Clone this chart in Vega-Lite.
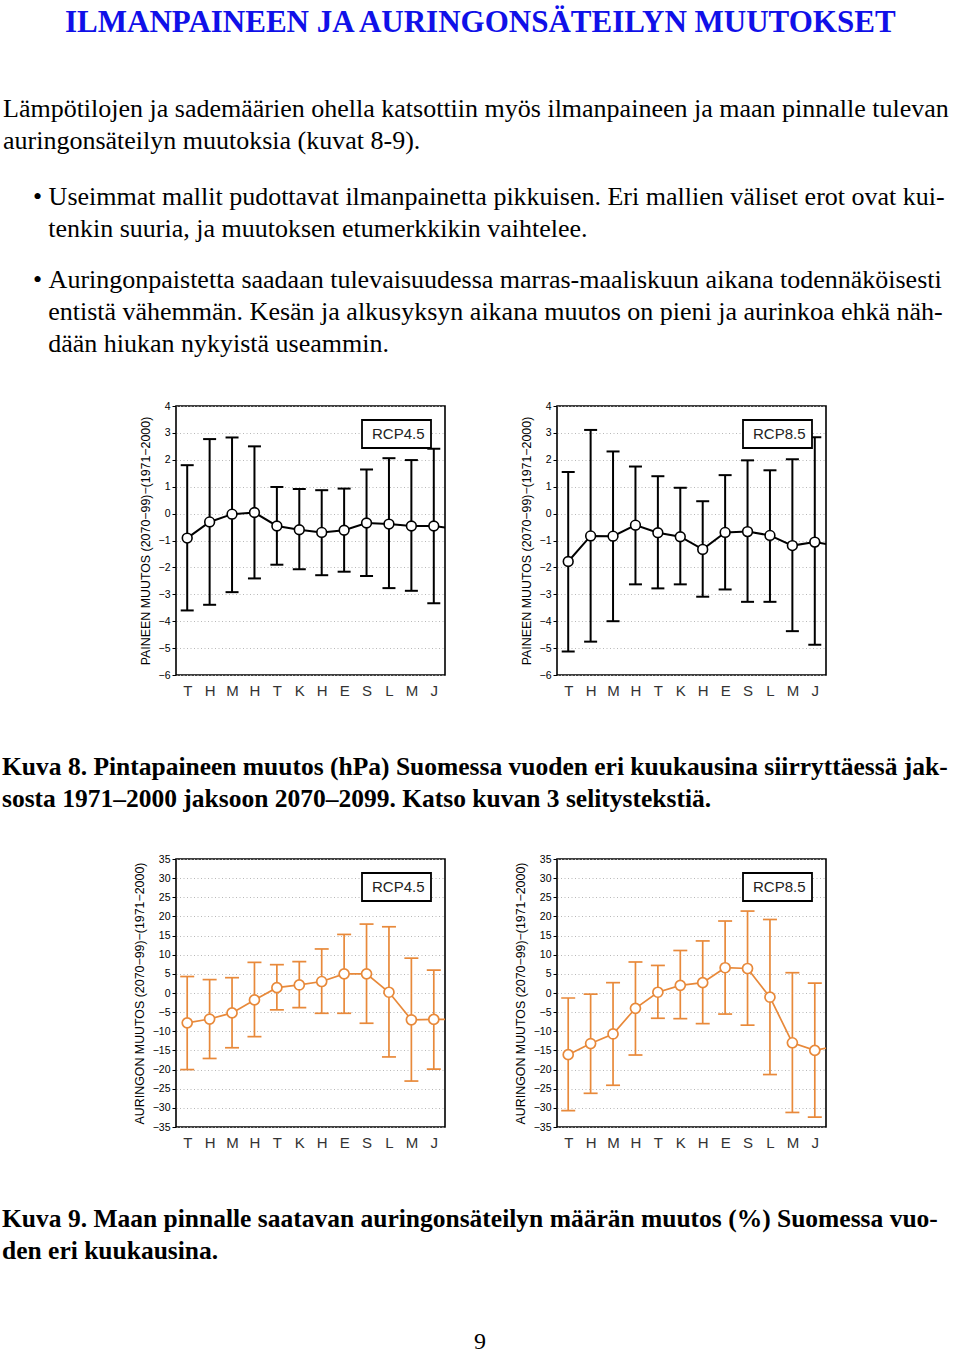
{
  "$schema": "https://vega.github.io/schema/vega-lite/v6.json",
  "padding": 0,
  "background": "white",
  "bounds": "flush",
  "columns": 3,
  "spacing": {"row": 0, "column": 112},
  "align": {"row": "each", "column": "none"},
  "resolve": {"scale": {"color": "independent"}, "legend": {"color": "independent"}},
  "datasets": {
    "p45": [
      {"m": 1, "kk": "T", "mean": -0.91, "lo": -3.60, "hi": 1.80, "skenaario": "RCP4.5"},
      {"m": 2, "kk": "H", "mean": -0.31, "lo": -3.39, "hi": 2.77, "skenaario": "RCP4.5"},
      {"m": 3, "kk": "M", "mean": -0.02, "lo": -2.92, "hi": 2.83, "skenaario": "RCP4.5"},
      {"m": 4, "kk": "H", "mean": 0.04, "lo": -2.41, "hi": 2.50, "skenaario": "RCP4.5"},
      {"m": 5, "kk": "T", "mean": -0.46, "lo": -1.90, "hi": 0.99, "skenaario": "RCP4.5"},
      {"m": 6, "kk": "K", "mean": -0.60, "lo": -2.07, "hi": 0.91, "skenaario": "RCP4.5"},
      {"m": 7, "kk": "H", "mean": -0.70, "lo": -2.29, "hi": 0.87, "skenaario": "RCP4.5"},
      {"m": 8, "kk": "E", "mean": -0.62, "lo": -2.16, "hi": 0.93, "skenaario": "RCP4.5"},
      {"m": 9, "kk": "S", "mean": -0.35, "lo": -2.32, "hi": 1.64, "skenaario": "RCP4.5"},
      {"m": 10, "kk": "L", "mean": -0.39, "lo": -2.77, "hi": 2.06, "skenaario": "RCP4.5"},
      {"m": 11, "kk": "M", "mean": -0.46, "lo": -2.87, "hi": 1.99, "skenaario": "RCP4.5"},
      {"m": 12, "kk": "J", "mean": -0.46, "lo": -3.33, "hi": 2.41, "skenaario": "RCP4.5"},
      {"m": 13, "kk": "T", "mean": -0.58, "lo": null, "hi": null, "skenaario": "RCP4.5"}
    ],
    "p85": [
      {"m": 1, "kk": "T", "mean": -1.78, "lo": -5.13, "hi": 1.55, "skenaario": "RCP8.5"},
      {"m": 2, "kk": "H", "mean": -0.83, "lo": -4.76, "hi": 3.11, "skenaario": "RCP8.5"},
      {"m": 3, "kk": "M", "mean": -0.84, "lo": -4.00, "hi": 2.31, "skenaario": "RCP8.5"},
      {"m": 4, "kk": "H", "mean": -0.43, "lo": -2.63, "hi": 1.75, "skenaario": "RCP8.5"},
      {"m": 5, "kk": "T", "mean": -0.71, "lo": -2.78, "hi": 1.39, "skenaario": "RCP8.5"},
      {"m": 6, "kk": "K", "mean": -0.86, "lo": -2.63, "hi": 0.96, "skenaario": "RCP8.5"},
      {"m": 7, "kk": "H", "mean": -1.33, "lo": -3.09, "hi": 0.46, "skenaario": "RCP8.5"},
      {"m": 8, "kk": "E", "mean": -0.70, "lo": -2.82, "hi": 1.43, "skenaario": "RCP8.5"},
      {"m": 9, "kk": "S", "mean": -0.67, "lo": -3.28, "hi": 1.98, "skenaario": "RCP8.5"},
      {"m": 10, "kk": "L", "mean": -0.81, "lo": -3.28, "hi": 1.61, "skenaario": "RCP8.5"},
      {"m": 11, "kk": "M", "mean": -1.19, "lo": -4.37, "hi": 2.02, "skenaario": "RCP8.5"},
      {"m": 12, "kk": "J", "mean": -1.06, "lo": -4.88, "hi": 2.84, "skenaario": "RCP8.5"},
      {"m": 13, "kk": "T", "mean": -1.20, "lo": null, "hi": null, "skenaario": "RCP8.5"}
    ],
    "r45": [
      {"m": 1, "kk": "T", "mean": -7.8, "lo": -20.0, "hi": 4.3, "skenaario": "RCP4.5"},
      {"m": 2, "kk": "H", "mean": -6.8, "lo": -17.1, "hi": 3.5, "skenaario": "RCP4.5"},
      {"m": 3, "kk": "M", "mean": -5.2, "lo": -14.3, "hi": 4.0, "skenaario": "RCP4.5"},
      {"m": 4, "kk": "H", "mean": -1.8, "lo": -11.4, "hi": 8.0, "skenaario": "RCP4.5"},
      {"m": 5, "kk": "T", "mean": 1.4, "lo": -4.4, "hi": 7.4, "skenaario": "RCP4.5"},
      {"m": 6, "kk": "K", "mean": 2.1, "lo": -3.8, "hi": 8.2, "skenaario": "RCP4.5"},
      {"m": 7, "kk": "H", "mean": 3.0, "lo": -5.3, "hi": 11.5, "skenaario": "RCP4.5"},
      {"m": 8, "kk": "E", "mean": 5.0, "lo": -5.3, "hi": 15.3, "skenaario": "RCP4.5"},
      {"m": 9, "kk": "S", "mean": 5.0, "lo": -7.9, "hi": 18.0, "skenaario": "RCP4.5"},
      {"m": 10, "kk": "L", "mean": 0.2, "lo": -16.7, "hi": 17.3, "skenaario": "RCP4.5"},
      {"m": 11, "kk": "M", "mean": -7.0, "lo": -23.0, "hi": 9.1, "skenaario": "RCP4.5"},
      {"m": 12, "kk": "J", "mean": -6.9, "lo": -19.9, "hi": 6.0, "skenaario": "RCP4.5"},
      {"m": 13, "kk": "T", "mean": -6.9, "lo": null, "hi": null, "skenaario": "RCP4.5"}
    ],
    "r85": [
      {"m": 1, "kk": "T", "mean": -16.1, "lo": -30.7, "hi": -1.3, "skenaario": "RCP8.5"},
      {"m": 2, "kk": "H", "mean": -13.2, "lo": -26.2, "hi": -0.3, "skenaario": "RCP8.5"},
      {"m": 3, "kk": "M", "mean": -10.7, "lo": -24.1, "hi": 2.7, "skenaario": "RCP8.5"},
      {"m": 4, "kk": "H", "mean": -4.0, "lo": -16.2, "hi": 8.1, "skenaario": "RCP8.5"},
      {"m": 5, "kk": "T", "mean": 0.2, "lo": -6.6, "hi": 7.2, "skenaario": "RCP8.5"},
      {"m": 6, "kk": "K", "mean": 2.0, "lo": -6.7, "hi": 11.1, "skenaario": "RCP8.5"},
      {"m": 7, "kk": "H", "mean": 2.7, "lo": -8.0, "hi": 13.6, "skenaario": "RCP8.5"},
      {"m": 8, "kk": "E", "mean": 6.6, "lo": -5.5, "hi": 18.8, "skenaario": "RCP8.5"},
      {"m": 9, "kk": "S", "mean": 6.4, "lo": -8.4, "hi": 21.4, "skenaario": "RCP8.5"},
      {"m": 10, "kk": "L", "mean": -1.1, "lo": -21.3, "hi": 19.2, "skenaario": "RCP8.5"},
      {"m": 11, "kk": "M", "mean": -13.0, "lo": -31.2, "hi": 5.3, "skenaario": "RCP8.5"},
      {"m": 12, "kk": "J", "mean": -15.0, "lo": -32.4, "hi": 2.6, "skenaario": "RCP8.5"},
      {"m": 13, "kk": "T", "mean": -13.8, "lo": null, "hi": null, "skenaario": "RCP8.5"}
    ]
  },
  "concat": [
    {"width": 62, "height": 39, "data": {"values": []}, "mark": "text", "encoding": {}},
    {"width": 1, "height": 1, "data": {"values": []}, "mark": "text", "encoding": {}},
    {"width": 1, "height": 1, "data": {"values": []}, "mark": "text", "encoding": {}},

    {"width": 62, "height": 115, "data": {"values": []}, "mark": "text", "encoding": {},
     "title": {"text": "ILMANPAINEEN JA AURINGONSÄTEILYN MUUTOKSET", "anchor": "start", "frame": "group", "orient": "top", "offset": 0, "dx": 65, "limit": 1200, "font": "Liberation Serif", "fontSize": 31, "fontWeight": "bold", "color": "#1010e8"}},
    {"width": 1, "height": 1, "data": {"values": []}, "mark": "text", "encoding": {}},
    {"width": 1, "height": 1, "data": {"values": []}, "mark": "text", "encoding": {}},

    {"width": 62, "height": 88, "data": {"values": []}, "mark": "text", "encoding": {},
     "title": {"text": ["Lämpötilojen ja sademäärien ohella katsottiin myös ilmanpaineen ja maan pinnalle tulevan", "auringonsäteilyn muutoksia (kuvat 8-9)."], "anchor": "start", "frame": "group", "orient": "top", "offset": 0, "dx": 3, "limit": 1200, "font": "Liberation Serif", "fontSize": 26, "fontWeight": "normal", "color": "black", "lineHeight": 32}},
    {"width": 1, "height": 1, "data": {"values": []}, "mark": "text", "encoding": {}},
    {"width": 1, "height": 1, "data": {"values": []}, "mark": "text", "encoding": {}},

    {"width": 62, "height": 115, "data": {"values": []}, "mark": "text", "encoding": {},
     "title": {"text": ["•\u00a0Useimmat mallit pudottavat ilmanpainetta pikkuisen. Eri mallien väliset erot ovat kui-", "\u200b\u00a0\u00a0\u200atenkin suuria, ja muutoksen etumerkkikin vaihtelee."], "anchor": "start", "frame": "group", "orient": "top", "offset": 0, "dx": 33, "limit": 1200, "font": "Liberation Serif", "fontSize": 26, "fontWeight": "normal", "color": "black", "lineHeight": 32}},
    {"width": 1, "height": 1, "data": {"values": []}, "mark": "text", "encoding": {}},
    {"width": 1, "height": 1, "data": {"values": []}, "mark": "text", "encoding": {}},

    {"width": 62, "height": 49, "data": {"values": []}, "mark": "text", "encoding": {},
     "title": {"text": ["•\u00a0Auringonpaistetta saadaan tulevaisuudessa marras-maaliskuun aikana todennäköisesti", "\u200b\u00a0\u00a0\u200aentistä vähemmän. Kesän ja alkusyksyn aikana muutos on pieni ja aurinkoa ehkä näh-", "\u200b\u00a0\u00a0\u200adään hiukan nykyistä useammin."], "anchor": "start", "frame": "group", "orient": "top", "offset": 0, "dx": 33, "limit": 1200, "font": "Liberation Serif", "fontSize": 26, "fontWeight": "normal", "color": "black", "lineHeight": 32}},
    {"width": 1, "height": 1, "data": {"values": []}, "mark": "text", "encoding": {}},
    {"width": 1, "height": 1, "data": {"values": []}, "mark": "text", "encoding": {}},

    {"width": 63.5, "height": 269, "data": {"values": []}, "mark": "text", "encoding": {}},
    {"width": 269, "height": 269, "data": {"name": "p45"}, "view": {"stroke": "black", "strokeWidth": 1.6},
     "encoding": {"x": {"field": "m", "type": "quantitative", "scale": {"domain": [0.5, 12.5], "nice": false, "zero": false}, "axis": {"title": null, "values": [1,2,3,4,5,6,7,8,9,10,11,12], "labelOverlap": false, "labelExpr": "['T','H','M','H','T','K','H','E','S','L','M','J'][datum.value-1]"}}},
     "layer": [
       {"transform": [{"filter": "datum.m <= 12"}], "mark": {"type": "rule", "color": "black", "strokeWidth": 2},
        "encoding": {"y": {"field": "lo", "type": "quantitative", "scale": {"domain": [-6, 4], "nice": false, "zero": false}, "axis": {"title": "PAINEEN MUUTOS (2070−99)−(1971−2000)", "labelOverlap": false, "values": [-6,-5,-4,-3,-2,-1,0,1,2,3,4]}}, "y2": {"field": "hi"}}},
       {"transform": [{"filter": "datum.m <= 12"}], "mark": {"type": "tick", "orient": "horizontal", "color": "black", "size": 13, "thickness": 2, "opacity": 1},
        "encoding": {"y": {"field": "lo", "type": "quantitative", "scale": {"domain": [-6, 4], "nice": false, "zero": false}, "axis": {"title": "PAINEEN MUUTOS (2070−99)−(1971−2000)", "labelOverlap": false, "values": [-6,-5,-4,-3,-2,-1,0,1,2,3,4]}}}},
       {"transform": [{"filter": "datum.m <= 12"}], "mark": {"type": "tick", "orient": "horizontal", "color": "black", "size": 13, "thickness": 2, "opacity": 1},
        "encoding": {"y": {"field": "hi", "type": "quantitative", "scale": {"domain": [-6, 4], "nice": false, "zero": false}, "axis": {"title": "PAINEEN MUUTOS (2070−99)−(1971−2000)", "labelOverlap": false, "values": [-6,-5,-4,-3,-2,-1,0,1,2,3,4]}}}},
       {"mark": {"type": "line", "strokeWidth": 2, "clip": true},
        "encoding": {"y": {"field": "mean", "type": "quantitative", "scale": {"domain": [-6, 4], "nice": false, "zero": false}, "axis": {"title": "PAINEEN MUUTOS (2070−99)−(1971−2000)", "labelOverlap": false, "values": [-6,-5,-4,-3,-2,-1,0,1,2,3,4]}},
                     "color": {"field": "skenaario", "type": "nominal", "scale": {"range": ["black"]}, "legend": {"title": null, "symbolSize": 0, "symbolStrokeWidth": 0, "symbolOpacity": 0, "labelOffset": -11, "padding": 6}}}},
       {"transform": [{"filter": "datum.m <= 12"}], "mark": {"type": "point", "shape": "circle", "filled": true, "fill": "white", "stroke": "black", "strokeWidth": 1.6, "size": 95, "opacity": 1},
        "encoding": {"y": {"field": "mean", "type": "quantitative", "scale": {"domain": [-6, 4], "nice": false, "zero": false}, "axis": {"title": "PAINEEN MUUTOS (2070−99)−(1971−2000)", "labelOverlap": false, "values": [-6,-5,-4,-3,-2,-1,0,1,2,3,4]}}}}
     ]},
    {"width": 269, "height": 269, "data": {"name": "p85"}, "view": {"stroke": "black", "strokeWidth": 1.6},
     "encoding": {"x": {"field": "m", "type": "quantitative", "scale": {"domain": [0.5, 12.5], "nice": false, "zero": false}, "axis": {"title": null, "values": [1,2,3,4,5,6,7,8,9,10,11,12], "labelOverlap": false, "labelExpr": "['T','H','M','H','T','K','H','E','S','L','M','J'][datum.value-1]"}}},
     "layer": [
       {"transform": [{"filter": "datum.m <= 12"}], "mark": {"type": "rule", "color": "black", "strokeWidth": 2},
        "encoding": {"y": {"field": "lo", "type": "quantitative", "scale": {"domain": [-6, 4], "nice": false, "zero": false}, "axis": {"title": "PAINEEN MUUTOS (2070−99)−(1971−2000)", "labelOverlap": false, "values": [-6,-5,-4,-3,-2,-1,0,1,2,3,4]}}, "y2": {"field": "hi"}}},
       {"transform": [{"filter": "datum.m <= 12"}], "mark": {"type": "tick", "orient": "horizontal", "color": "black", "size": 13, "thickness": 2, "opacity": 1},
        "encoding": {"y": {"field": "lo", "type": "quantitative", "scale": {"domain": [-6, 4], "nice": false, "zero": false}, "axis": {"title": "PAINEEN MUUTOS (2070−99)−(1971−2000)", "labelOverlap": false, "values": [-6,-5,-4,-3,-2,-1,0,1,2,3,4]}}}},
       {"transform": [{"filter": "datum.m <= 12"}], "mark": {"type": "tick", "orient": "horizontal", "color": "black", "size": 13, "thickness": 2, "opacity": 1},
        "encoding": {"y": {"field": "hi", "type": "quantitative", "scale": {"domain": [-6, 4], "nice": false, "zero": false}, "axis": {"title": "PAINEEN MUUTOS (2070−99)−(1971−2000)", "labelOverlap": false, "values": [-6,-5,-4,-3,-2,-1,0,1,2,3,4]}}}},
       {"mark": {"type": "line", "strokeWidth": 2, "clip": true},
        "encoding": {"y": {"field": "mean", "type": "quantitative", "scale": {"domain": [-6, 4], "nice": false, "zero": false}, "axis": {"title": "PAINEEN MUUTOS (2070−99)−(1971−2000)", "labelOverlap": false, "values": [-6,-5,-4,-3,-2,-1,0,1,2,3,4]}},
                     "color": {"field": "skenaario", "type": "nominal", "scale": {"range": ["black"]}, "legend": {"title": null, "symbolSize": 0, "symbolStrokeWidth": 0, "symbolOpacity": 0, "labelOffset": -11, "padding": 6}}}},
       {"transform": [{"filter": "datum.m <= 12"}], "mark": {"type": "point", "shape": "circle", "filled": true, "fill": "white", "stroke": "black", "strokeWidth": 1.6, "size": 95, "opacity": 1},
        "encoding": {"y": {"field": "mean", "type": "quantitative", "scale": {"domain": [-6, 4], "nice": false, "zero": false}, "axis": {"title": "PAINEEN MUUTOS (2070−99)−(1971−2000)", "labelOverlap": false, "values": [-6,-5,-4,-3,-2,-1,0,1,2,3,4]}}}}
     ]},

    {"width": 62, "height": 137, "data": {"values": []}, "mark": "text", "encoding": {}},
    {"width": 1, "height": 1, "data": {"values": []}, "mark": "text", "encoding": {}},
    {"width": 1, "height": 1, "data": {"values": []}, "mark": "text", "encoding": {}},

    {"width": 62, "height": 47, "data": {"values": []}, "mark": "text", "encoding": {},
     "title": {"text": ["Kuva 8. Pintapaineen muutos (hPa) Suomessa vuoden eri kuukausina siirryttäessä jak-", "sosta 1971–2000 jaksoon 2070–2099. Katso kuvan 3 selitystekstiä."], "anchor": "start", "frame": "group", "orient": "top", "offset": 0, "dx": 2, "limit": 1200, "font": "Liberation Serif", "fontSize": 25.5, "fontWeight": "bold", "color": "black", "lineHeight": 32}},
    {"width": 1, "height": 1, "data": {"values": []}, "mark": "text", "encoding": {}},
    {"width": 1, "height": 1, "data": {"values": []}, "mark": "text", "encoding": {}},

    {"width": 63.5, "height": 268, "data": {"values": []}, "mark": "text", "encoding": {}},
    {"width": 269, "height": 268, "data": {"name": "r45"}, "view": {"stroke": "black", "strokeWidth": 1.6},
     "encoding": {"x": {"field": "m", "type": "quantitative", "scale": {"domain": [0.5, 12.5], "nice": false, "zero": false}, "axis": {"title": null, "values": [1,2,3,4,5,6,7,8,9,10,11,12], "labelOverlap": false, "labelExpr": "['T','H','M','H','T','K','H','E','S','L','M','J'][datum.value-1]"}}},
     "layer": [
       {"transform": [{"filter": "datum.m <= 12"}], "mark": {"type": "rule", "color": "#e8893a", "strokeWidth": 1.7},
        "encoding": {"y": {"field": "lo", "type": "quantitative", "scale": {"domain": [-35, 35], "nice": false, "zero": false}, "axis": {"title": "AURINGON MUUTOS (2070−99)−(1971−2000)", "labelOverlap": false, "values": [-35,-30,-25,-20,-15,-10,-5,0,5,10,15,20,25,30,35]}}, "y2": {"field": "hi"}}},
       {"transform": [{"filter": "datum.m <= 12"}], "mark": {"type": "tick", "orient": "horizontal", "color": "#e8893a", "size": 14, "thickness": 1.7, "opacity": 1},
        "encoding": {"y": {"field": "lo", "type": "quantitative", "scale": {"domain": [-35, 35], "nice": false, "zero": false}, "axis": {"title": "AURINGON MUUTOS (2070−99)−(1971−2000)", "labelOverlap": false, "values": [-35,-30,-25,-20,-15,-10,-5,0,5,10,15,20,25,30,35]}}}},
       {"transform": [{"filter": "datum.m <= 12"}], "mark": {"type": "tick", "orient": "horizontal", "color": "#e8893a", "size": 14, "thickness": 1.7, "opacity": 1},
        "encoding": {"y": {"field": "hi", "type": "quantitative", "scale": {"domain": [-35, 35], "nice": false, "zero": false}, "axis": {"title": "AURINGON MUUTOS (2070−99)−(1971−2000)", "labelOverlap": false, "values": [-35,-30,-25,-20,-15,-10,-5,0,5,10,15,20,25,30,35]}}}},
       {"mark": {"type": "line", "strokeWidth": 1.7, "clip": true},
        "encoding": {"y": {"field": "mean", "type": "quantitative", "scale": {"domain": [-35, 35], "nice": false, "zero": false}, "axis": {"title": "AURINGON MUUTOS (2070−99)−(1971−2000)", "labelOverlap": false, "values": [-35,-30,-25,-20,-15,-10,-5,0,5,10,15,20,25,30,35]}},
                     "color": {"field": "skenaario", "type": "nominal", "scale": {"range": ["#e8893a"]}, "legend": {"title": null, "symbolSize": 0, "symbolStrokeWidth": 0, "symbolOpacity": 0, "labelOffset": -11, "padding": 6}}}},
       {"transform": [{"filter": "datum.m <= 12"}], "mark": {"type": "point", "shape": "circle", "filled": true, "fill": "white", "stroke": "#e8893a", "strokeWidth": 1.7, "size": 100, "opacity": 1},
        "encoding": {"y": {"field": "mean", "type": "quantitative", "scale": {"domain": [-35, 35], "nice": false, "zero": false}, "axis": {"title": "AURINGON MUUTOS (2070−99)−(1971−2000)", "labelOverlap": false, "values": [-35,-30,-25,-20,-15,-10,-5,0,5,10,15,20,25,30,35]}}}}
     ]},
    {"width": 269, "height": 268, "data": {"name": "r85"}, "view": {"stroke": "black", "strokeWidth": 1.6},
     "encoding": {"x": {"field": "m", "type": "quantitative", "scale": {"domain": [0.5, 12.5], "nice": false, "zero": false}, "axis": {"title": null, "values": [1,2,3,4,5,6,7,8,9,10,11,12], "labelOverlap": false, "labelExpr": "['T','H','M','H','T','K','H','E','S','L','M','J'][datum.value-1]"}}},
     "layer": [
       {"transform": [{"filter": "datum.m <= 12"}], "mark": {"type": "rule", "color": "#e8893a", "strokeWidth": 1.7},
        "encoding": {"y": {"field": "lo", "type": "quantitative", "scale": {"domain": [-35, 35], "nice": false, "zero": false}, "axis": {"title": "AURINGON MUUTOS (2070−99)−(1971−2000)", "labelOverlap": false, "values": [-35,-30,-25,-20,-15,-10,-5,0,5,10,15,20,25,30,35]}}, "y2": {"field": "hi"}}},
       {"transform": [{"filter": "datum.m <= 12"}], "mark": {"type": "tick", "orient": "horizontal", "color": "#e8893a", "size": 14, "thickness": 1.7, "opacity": 1},
        "encoding": {"y": {"field": "lo", "type": "quantitative", "scale": {"domain": [-35, 35], "nice": false, "zero": false}, "axis": {"title": "AURINGON MUUTOS (2070−99)−(1971−2000)", "labelOverlap": false, "values": [-35,-30,-25,-20,-15,-10,-5,0,5,10,15,20,25,30,35]}}}},
       {"transform": [{"filter": "datum.m <= 12"}], "mark": {"type": "tick", "orient": "horizontal", "color": "#e8893a", "size": 14, "thickness": 1.7, "opacity": 1},
        "encoding": {"y": {"field": "hi", "type": "quantitative", "scale": {"domain": [-35, 35], "nice": false, "zero": false}, "axis": {"title": "AURINGON MUUTOS (2070−99)−(1971−2000)", "labelOverlap": false, "values": [-35,-30,-25,-20,-15,-10,-5,0,5,10,15,20,25,30,35]}}}},
       {"mark": {"type": "line", "strokeWidth": 1.7, "clip": true},
        "encoding": {"y": {"field": "mean", "type": "quantitative", "scale": {"domain": [-35, 35], "nice": false, "zero": false}, "axis": {"title": "AURINGON MUUTOS (2070−99)−(1971−2000)", "labelOverlap": false, "values": [-35,-30,-25,-20,-15,-10,-5,0,5,10,15,20,25,30,35]}},
                     "color": {"field": "skenaario", "type": "nominal", "scale": {"range": ["#e8893a"]}, "legend": {"title": null, "symbolSize": 0, "symbolStrokeWidth": 0, "symbolOpacity": 0, "labelOffset": -11, "padding": 6}}}},
       {"transform": [{"filter": "datum.m <= 12"}], "mark": {"type": "point", "shape": "circle", "filled": true, "fill": "white", "stroke": "#e8893a", "strokeWidth": 1.7, "size": 100, "opacity": 1},
        "encoding": {"y": {"field": "mean", "type": "quantitative", "scale": {"domain": [-35, 35], "nice": false, "zero": false}, "axis": {"title": "AURINGON MUUTOS (2070−99)−(1971−2000)", "labelOverlap": false, "values": [-35,-30,-25,-20,-15,-10,-5,0,5,10,15,20,25,30,35]}}}}
     ]},

    {"width": 62, "height": 137, "data": {"values": []}, "mark": "text", "encoding": {}},
    {"width": 1, "height": 1, "data": {"values": []}, "mark": "text", "encoding": {}},
    {"width": 1, "height": 1, "data": {"values": []}, "mark": "text", "encoding": {}},

    {"width": 62, "height": 90, "data": {"values": []}, "mark": "text", "encoding": {},
     "title": {"text": ["Kuva 9. Maan pinnalle saatavan auringonsäteilyn määrän muutos (%) Suomessa vuo-", "den eri kuukausina."], "anchor": "start", "frame": "group", "orient": "top", "offset": 0, "dx": 2, "limit": 1200, "font": "Liberation Serif", "fontSize": 25.5, "fontWeight": "bold", "color": "black", "lineHeight": 32}},
    {"width": 1, "height": 1, "data": {"values": []}, "mark": "text", "encoding": {}},
    {"width": 1, "height": 1, "data": {"values": []}, "mark": "text", "encoding": {}},

    {"width": 62, "height": 10, "data": {"values": []}, "mark": "text", "encoding": {},
     "title": {"text": "9", "anchor": "start", "frame": "group", "orient": "top", "offset": 0, "dx": 474, "limit": 1200, "font": "Liberation Serif", "fontSize": 24, "fontWeight": "normal", "color": "black"}},
    {"width": 1, "height": 1, "data": {"values": []}, "mark": "text", "encoding": {}},
    {"width": 1, "height": 1, "data": {"values": []}, "mark": "text", "encoding": {}}
  ],
  "config": {
    "view": {"stroke": null},
    "axis": {"labelFont": "Liberation Sans", "titleFont": "Liberation Sans", "domain": false, "labelOverlap": false},
    "axisX": {"grid": false, "ticks": false, "labelFontSize": 15, "labelColor": "#333", "labelPadding": 8},
    "axisY": {"grid": true, "gridColor": "#b8b8b8", "gridDash": [1, 2.5], "gridWidth": 1, "tickSize": 4, "tickColor": "black", "tickWidth": 1, "labelFontSize": 10.5, "labelColor": "black", "labelPadding": 2, "labelOverlap": false, "titleFontSize": 12.4, "titleFontWeight": "normal", "titleColor": "black", "titlePadding": 6},
    "legend": {"orient": "top-right", "offset": 14, "padding": 6, "strokeColor": "black", "strokeWidth": 1.8, "fillColor": "white", "labelFont": "Liberation Sans", "labelFontSize": 15, "labelColor": "#222", "symbolSize": 0, "symbolOpacity": 0, "symbolStrokeWidth": 0, "labelOffset": -11}
  }
}
